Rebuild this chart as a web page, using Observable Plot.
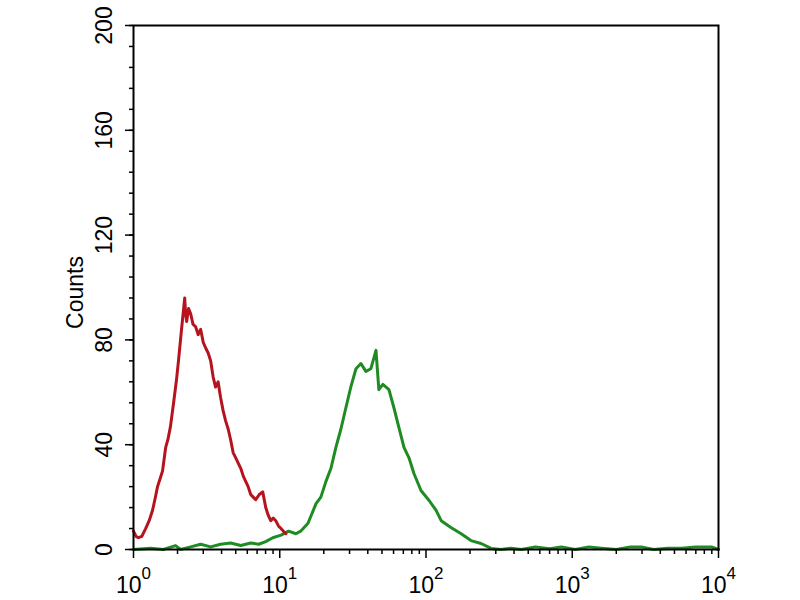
<!DOCTYPE html>
<html><head><meta charset="utf-8">
<script src="https://cdn.jsdelivr.net/npm/d3@7"></script>
<script src="https://cdn.jsdelivr.net/npm/@observablehq/plot@0.6"></script>
<style>body{margin:0;background:#fff;} svg{overflow:visible;}</style>
</head><body><div id="chart"></div>
<script>
// Red histogram (isotype control): fluorescence intensity and counts
const redIntensity = [1.00, 1.04, 1.08, 1.14, 1.21, 1.28, 1.35, 1.40, 1.46, 1.52, 1.58, 1.66, 1.72, 1.79, 1.88, 1.97, 2.03, 2.13, 2.24, 2.27, 2.31, 2.38, 2.46, 2.55, 2.66, 2.77, 2.88, 3.00, 3.11, 3.24, 3.37, 3.50, 3.64, 3.79, 3.94, 4.10, 4.27, 4.44, 4.61, 4.80, 5.00, 5.20, 5.41, 5.63, 5.85, 6.08, 6.33, 6.58, 6.85, 7.25, 7.65, 8.02, 8.35, 8.68, 9.02, 9.39, 9.80, 10.2, 10.6, 11.0];
const redCount = [7, 5, 4.5, 5, 8, 11, 15, 19, 24, 27, 30, 39, 42, 47, 56, 65, 72, 84, 96, 90, 87, 92, 90, 86, 85, 82, 84, 79, 77, 75, 72, 66, 62, 64, 58, 53, 49, 46, 42, 37, 35, 33, 31, 28, 26, 24, 21, 20, 19, 21, 22, 16, 13, 11, 12, 11, 9, 8, 7, 6];

// Green histogram (antibody stained): fluorescence intensity and counts
const greenIntensity = [1.00, 1.31, 1.60, 1.94, 2.10, 2.46, 2.88, 3.37, 3.94, 4.61, 5.41, 6.33, 7.18, 8.02, 8.96, 10.2, 11.5, 12.9, 13.9, 15.6, 17.7, 19.1, 20.7, 22.4, 24.2, 26.2, 28.3, 30.6, 33.2, 35.9, 38.8, 42.0, 45.5, 47.6, 50.7, 55.8, 60.4, 65.3, 70.7, 76.5, 82.7, 92.4, 105, 117, 127, 148, 174, 203, 238, 279, 326, 380, 448, 560, 700, 841, 1050, 1300, 1581, 2000, 2500, 2972, 3600, 4500, 5586, 7000, 8954, 10000];
const greenCount = [0, 0.5, 0, 1.5, 0, 1, 2, 1, 2, 2.5, 1.5, 2.5, 2, 3, 4.5, 5.5, 7, 6, 7, 10, 17.5, 20, 26, 31, 39, 46, 54, 62, 69, 71, 68, 69, 76, 61, 63, 61, 54, 46.5, 39, 35, 29, 22.5, 18.7, 15, 11, 8.4, 6, 3.4, 2.3, 0.4, 0, 0.5, 0, 1, 0.3, 1, 0, 1, 0.5, 0, 1, 1, 0, 0.5, 0.5, 1, 1, 0];

const yTickValues = [0, 40, 80, 120, 160, 200];
const yMinorTickValues = d3.range(0, 201, 8);
const xTickValues = [1, 10, 100, 1000, 10000];
const xMinorTickValues = [1, 10, 100, 1000].flatMap(p => [2,3,4,5,6,7,8,9].map(m => m * p));
const yLabel = "Counts";

const red = redIntensity.map((x, i) => ({x, y: redCount[i]}));
const green = greenIntensity.map((x, i) => ({x, y: greenCount[i]}));

const chart = Plot.plot({
  width: 800, height: 600,
  marginLeft: 133, marginRight: 82, marginTop: 25, marginBottom: 51,
  style: {fontFamily: "'Liberation Sans', Arial, sans-serif", background: "#fff", color: "#000", overflow: "visible"},
  x: {type: "log", domain: [1, 10000], label: null},
  y: {domain: [0, 200], label: null},
  marks: [
    Plot.line(green, {x: "x", y: "y", stroke: "#1f8c23", strokeWidth: 3}),
    Plot.line(red, {x: "x", y: "y", stroke: "#b5141f", strokeWidth: 3}),
    Plot.axisY({ticks: yMinorTickValues, tickSize: 4, tickFormat: () => "", strokeWidth: 1.5, label: null}),
    Plot.axisY({ticks: yTickValues, tickSize: 8, tickFormat: () => "", strokeWidth: 1.5, label: null}),
    Plot.axisX({ticks: xMinorTickValues, tickSize: 5, tickFormat: () => "", strokeWidth: 1.5, label: null}),
    Plot.axisX({ticks: xTickValues, tickSize: 9, tickPadding: 18, fontSize: 23, strokeWidth: 1.5, label: null,
      tickFormat: d => "10^" + Math.round(Math.log10(d))}),
    Plot.text(yTickValues, {y: d => d, text: d => String(d), frameAnchor: "left", dx: -22, rotate: -90, textAnchor: "middle", lineAnchor: "bottom", fontSize: 23, fill: "#000"}),
    Plot.text([yLabel], {text: d => d, frameAnchor: "left", dx: -51, dy: 5, rotate: -90, textAnchor: "middle", lineAnchor: "bottom", fontSize: 23, fill: "#000"}),
    Plot.frame({stroke: "#000", strokeWidth: 2})
  ]
});

d3.select(chart).selectAll("text").each(function() {
  const t = this.textContent;
  const m = /^10\^(\d+)$/.exec(t);
  if (m) {
    const sel = d3.select(this);
    sel.text(null);
    sel.append("tspan").text("10");
    sel.append("tspan").attr("dy", -14).attr("font-size", 17).text(m[1]);
  }
});

document.getElementById("chart").appendChild(chart);
</script>
</body></html>
